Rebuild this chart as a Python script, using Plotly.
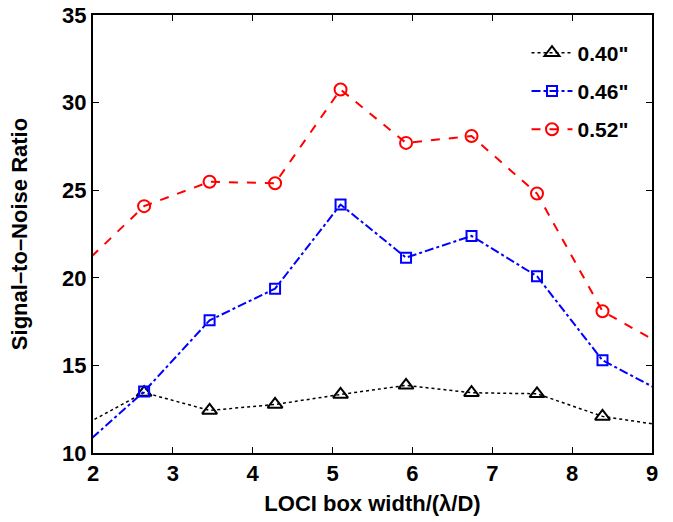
import plotly.graph_objects as go

# Data
x_vals = [1.82, 2.64, 3.46, 4.28, 5.10, 5.92, 6.74, 7.56, 8.38, 9.20]
snr_040 = [11.43, 13.45, 12.43, 12.77, 13.34, 13.86, 13.44, 13.38, 12.09, 11.53]
snr_046 = [10.17, 13.51, 17.57, 19.38, 24.18, 21.15, 22.39, 20.09, 15.29, 13.32]
snr_052 = [20.5, 24.09, 25.48, 25.40, 30.75, 27.70, 28.09, 24.81, 18.09, 16.0]
series_names = ['0.40"', '0.46"', '0.52"']

x_ticks = [2, 3, 4, 5, 6, 7, 8, 9]
y_ticks = [10, 15, 20, 25, 30, 35]

FONT = "Liberation Sans, Arial, Helvetica, sans-serif"

fig = go.Figure()
fig.add_trace(go.Scatter(
    x=x_vals, y=snr_040, name=series_names[0], mode="lines+markers",
    line=dict(color="black", width=1.5, dash="dot"),
    marker=dict(symbol="triangle-up-open", size=13, color="black", line=dict(width=2)),
    legendgroup="a",
))
fig.add_trace(go.Scatter(
    x=x_vals, y=snr_046, name=series_names[1], mode="lines+markers",
    line=dict(color="#0000ff", width=2, dash="dashdot"),
    marker=dict(symbol="square-open", size=10, color="#0000ff", line=dict(width=2)),
    legendgroup="b",
))
fig.add_trace(go.Scatter(
    x=x_vals, y=snr_052, name=series_names[2], mode="lines+markers",
    line=dict(color="#ff0000", width=2, dash="dash"),
    marker=dict(symbol="circle-open", size=12, color="#ff0000", line=dict(width=2)),
    legendgroup="c",
))

axis_common = dict(
    showline=True, linecolor="black", linewidth=2, mirror="ticks",
    ticks="inside", ticklen=6, tickwidth=1, tickcolor="black",
    showgrid=False, zeroline=False, automargin=False,
    tickfont=dict(family=FONT, size=22, color="black", weight="bold"),
)

fig.update_layout(
    width=673, height=522,
    margin=dict(l=93, r=21, t=15, b=69, autoexpand=False),
    paper_bgcolor="white", plot_bgcolor="white",
    font=dict(family=FONT, color="black"),
    xaxis=dict(range=[2, 9], tickvals=x_ticks,
               title=dict(text="LOCI box width/(λ/D)", standoff=10,
                          font=dict(family=FONT, size=22, color="black", weight="bold")),
               **axis_common),
    yaxis=dict(range=[10, 35], tickvals=y_ticks,
               title=dict(text="Signal–to–Noise Ratio", standoff=28,
                          font=dict(family=FONT, size=22, color="black", weight="bold")),
               **axis_common),
    legend=dict(x=0.7755, y=0.96, xanchor="left", yanchor="top",
                bgcolor="rgba(0,0,0,0)", traceorder="grouped", tracegroupgap=8,
                itemwidth=41,
                font=dict(family=FONT, size=21, color="black", weight="bold")),
)

fig.write_html("out.html")
